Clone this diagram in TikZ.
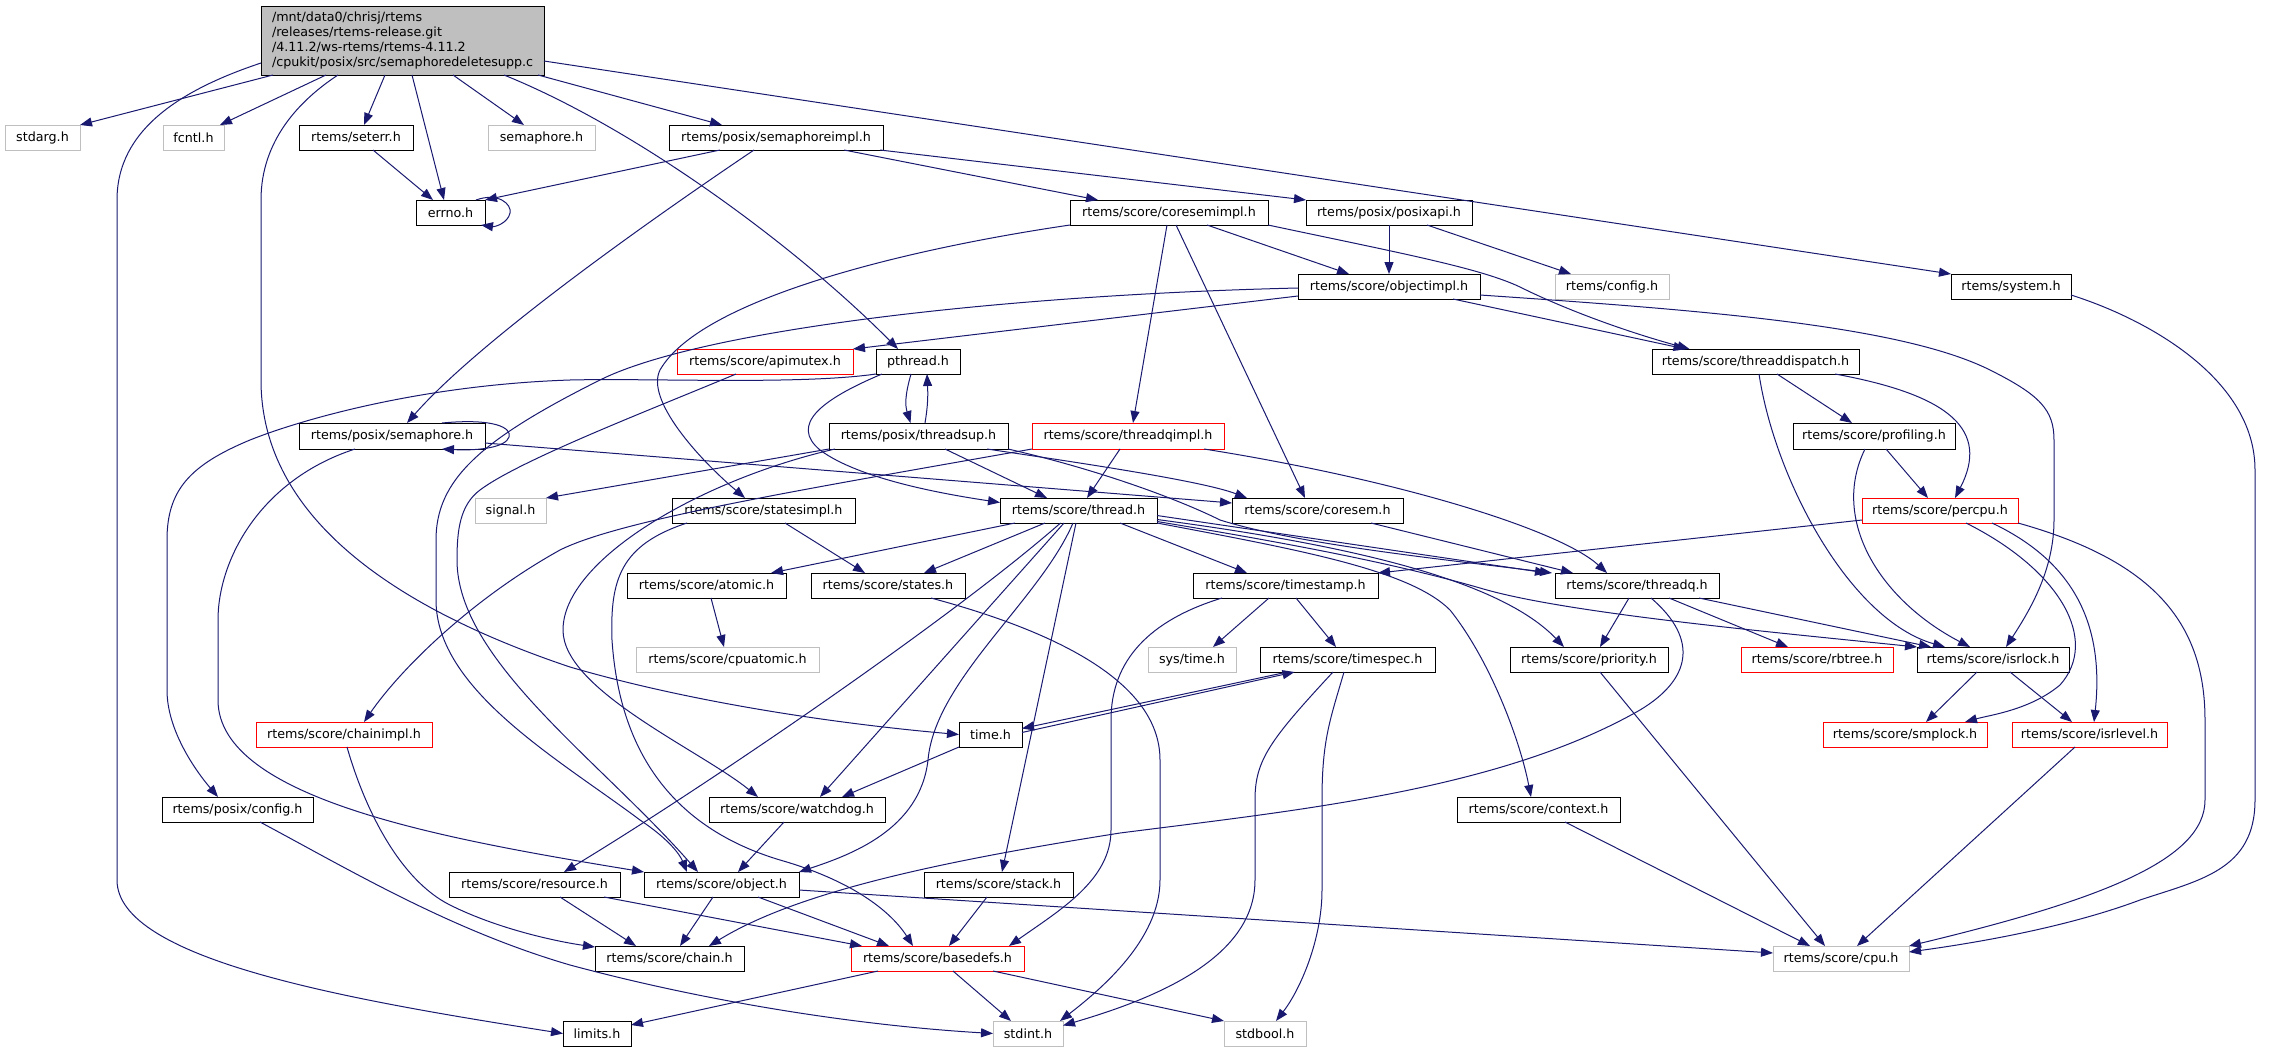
\documentclass[tikz,border=0pt]{standalone}
\usepackage{fontspec}
\setmainfont{DejaVu Sans}
\usetikzlibrary{arrows.meta}
\definecolor{edgecol}{HTML}{191970}
\definecolor{grayb}{HTML}{BFBFBF}
\definecolor{redb}{HTML}{FF0000}
\tikzset{
 box/.style={draw=black, line width=1pt, inner sep=0pt, outer sep=0pt, font=\fontsize{12.7}{14.7}\selectfont, fill=white},
 graybox/.style={box, draw=grayb},
 redbox/.style={box, draw=redb},
 rootbox/.style={box, fill=grayb, align=left},
 edge/.style={draw=edgecol, line width=1pt, -{Triangle[length=12pt,width=9pt]}},
}
\newcommand{\nd}[7]{\node[#6, minimum width={(#4-#2)*1pt}, minimum height={(#5-#3)*1pt}] (#1) at ({(#2+#4)/2},{(#3+#5)/2}) {#7};}
\begin{document}
\begin{tikzpicture}[x=1pt,y=-1pt]
\useasboundingbox (0,0) rectangle (2271,1052);
\nd{root}{261}{6}{544}{75}{rootbox, text width=261pt}{/mnt/data0/chrisj/rtems\\/releases/rtems-release.git\\/4.11.2/ws-rtems/rtems-4.11.2\\/cpukit/posix/src/semaphoredeletesupp.c}
\nd{stdarg}{5}{125}{80}{150}{graybox}{stdarg.h}
\nd{fcntl}{163}{125}{224}{150}{graybox}{fcntl.h}
\nd{seterr}{299}{125}{413}{150}{box}{rtems/seterr.h}
\nd{semsys}{488}{125}{595}{150}{graybox}{semaphore.h}
\nd{semimpl}{669}{125}{883}{150}{box}{rtems/posix/semaphoreimpl.h}
\nd{errno}{416}{200}{485}{225}{box}{errno.h}
\nd{coresemimpl}{1070}{200}{1268}{225}{box}{rtems/score/coresemimpl.h}
\nd{posixapi}{1306}{200}{1472}{225}{box}{rtems/posix/posixapi.h}
\nd{objectimpl}{1298}{274}{1480}{299}{box}{rtems/score/objectimpl.h}
\nd{config}{1555}{274}{1669}{299}{graybox}{rtems/config.h}
\nd{system}{1951}{274}{2071}{299}{box}{rtems/system.h}
\nd{threaddispatch}{1652}{349}{1859}{374}{box}{rtems/score/threaddispatch.h}
\nd{apimutex}{677}{349}{853}{374}{redbox}{rtems/score/apimutex.h}
\nd{pthread}{876}{349}{960}{374}{box}{pthread.h}
\nd{posixsem}{299}{423}{485}{449}{box}{rtems/posix/semaphore.h}
\nd{threadsup}{829}{423}{1008}{449}{box}{rtems/posix/threadsup.h}
\nd{threadqimpl}{1032}{423}{1224}{449}{redbox}{rtems/score/threadqimpl.h}
\nd{profiling}{1793}{423}{1955}{449}{box}{rtems/score/profiling.h}
\nd{signal}{475}{498}{546}{523}{graybox}{signal.h}
\nd{statesimpl}{672}{498}{855}{523}{box}{rtems/score/statesimpl.h}
\nd{thread}{1000}{498}{1157}{523}{box}{rtems/score/thread.h}
\nd{coresem}{1232}{498}{1403}{523}{box}{rtems/score/coresem.h}
\nd{percpu}{1862}{498}{2018}{523}{redbox}{rtems/score/percpu.h}
\nd{atomic}{627}{573}{786}{598}{box}{rtems/score/atomic.h}
\nd{states}{811}{573}{965}{598}{box}{rtems/score/states.h}
\nd{timestamp}{1193}{573}{1378}{598}{box}{rtems/score/timestamp.h}
\nd{threadq}{1555}{573}{1719}{598}{box}{rtems/score/threadq.h}
\nd{cpuatomic}{636}{647}{819}{672}{graybox}{rtems/score/cpuatomic.h}
\nd{systime}{1148}{647}{1236}{672}{graybox}{sys/time.h}
\nd{timespec}{1260}{647}{1435}{672}{box}{rtems/score/timespec.h}
\nd{priority}{1510}{647}{1668}{672}{box}{rtems/score/priority.h}
\nd{rbtree}{1741}{647}{1893}{672}{redbox}{rtems/score/rbtree.h}
\nd{isrlock}{1917}{647}{2069}{672}{box}{rtems/score/isrlock.h}
\nd{chainimpl}{256}{722}{432}{747}{redbox}{rtems/score/chainimpl.h}
\nd{time}{959}{722}{1022}{747}{box}{time.h}
\nd{smplock}{1823}{722}{1987}{747}{redbox}{rtems/score/smplock.h}
\nd{isrlevel}{2012}{722}{2167}{747}{redbox}{rtems/score/isrlevel.h}
\nd{posixconfig}{162}{797}{313}{822}{box}{rtems/posix/config.h}
\nd{watchdog}{709}{797}{885}{822}{box}{rtems/score/watchdog.h}
\nd{context}{1457}{797}{1620}{822}{box}{rtems/score/context.h}
\nd{resource}{449}{872}{620}{897}{box}{rtems/score/resource.h}
\nd{object}{644}{872}{799}{897}{box}{rtems/score/object.h}
\nd{stack}{924}{872}{1073}{897}{box}{rtems/score/stack.h}
\nd{cpu}{1773}{946}{1909}{971}{graybox}{rtems/score/cpu.h}
\nd{chain}{595}{946}{744}{971}{box}{rtems/score/chain.h}
\nd{basedefs}{851}{946}{1024}{971}{redbox}{rtems/score/basedefs.h}
\nd{limits}{563}{1021}{631}{1046}{box}{limits.h}
\nd{stdint}{993}{1021}{1063}{1046}{graybox}{stdint.h}
\nd{stdbool}{1224}{1021}{1306}{1046}{graybox}{stdbool.h}
% root edges
\draw[edge] ([xshift=-129.5pt]root.south) -- (stdarg.north east);
\draw[edge] ([xshift=-76.5pt]root.south) -- ([xshift=26.5pt]fcntl.north);
\draw[edge] ([xshift=-64.5pt]root.south) .. controls (300,100) and (261,140) .. (261,200) -- (261,380) .. controls (261,520) and (400,610) .. (570,667) .. controls (700,705) and (850,725) .. (time.west);
\draw[edge] ([xshift=-17.5pt]root.south) -- ([xshift=8pt]seterr.north);
\draw[edge] ([xshift=9.5pt]root.south) -- ([xshift=-6.5pt]errno.north);
\draw[edge] ([xshift=50.5pt]root.south) -- ([xshift=-17.5pt]semsys.north);
\draw[edge] ([xshift=101.5pt]root.south) .. controls (640,130) and (800,250) .. ([xshift=-20pt]pthread.north);
\draw[edge] ([xshift=135.5pt]root.south) -- ([xshift=-54pt]semimpl.north);
\draw[edge] ([yshift=-20.5pt]root.east) -- (system.north west);
\draw[edge] ([yshift=-22.5pt]root.west) .. controls (180,90) and (117,130) .. (117,200) -- (117,880) .. controls (117,960) and (350,1000) .. (limits.west);
% seterr, errno
\draw[edge] ([xshift=17pt]seterr.south) -- ([xshift=-17.5pt]errno.north);
\draw[edge] ([xshift=-9pt]errno.north east) .. controls (498,192) and (512,204) .. (510,213) .. controls (508,223) and (495,227) .. ([xshift=-4pt]errno.south east);
% semaphoreimpl
\draw[edge] ([xshift=-56pt]semimpl.south) -- (errno.north east);
\draw[edge] ([xshift=-22pt]semimpl.south) .. controls (650,220) and (480,340) .. ([xshift=15pt]posixsem.north);
\draw[edge] ([xshift=68pt]semimpl.south) -- ([xshift=-71pt]coresemimpl.north);
\draw[edge] ([xshift=104pt]semimpl.south) -- (posixapi.north west);
% coresemimpl
\draw[edge] ([xshift=38pt]coresemimpl.south) -- ([xshift=-40pt]objectimpl.north);
\draw[edge] (coresemimpl.south east) .. controls (1400,253) and (1480,268) .. (1520,287) .. controls (1560,307) and (1620,330) .. ([xshift=-66pt]threaddispatch.north);
\draw[edge] ([xshift=-2pt]coresemimpl.south) -- ([xshift=5pt]threadqimpl.north);
\draw[edge] ([xshift=7pt]coresemimpl.south) -- ([xshift=-12.5pt]coresem.north);
\draw[edge] (coresemimpl.south west) .. controls (900,250) and (700,300) .. (660,370) .. controls (645,400) and (700,460) .. ([xshift=-18.5pt]statesimpl.north);
% posixapi
\draw[edge] (posixapi.south) -- (objectimpl.north);
\draw[edge] ([xshift=38pt]posixapi.south) -- ([xshift=-41pt]config.north);
% objectimpl
\draw[edge] ([yshift=-9.5pt]objectimpl.west) -- (apimutex.north east);
\draw[edge] ([yshift=-1.5pt]objectimpl.west) .. controls (1000,295) and (700,330) .. (600,380) .. controls (480,440) and (436,480) .. (436,540) -- (436,600) .. controls (436,690) and (560,760) .. (640,820) .. controls (670,840) and (680,855) .. ([xshift=-34.5pt]object.north);
\draw[edge] ([xshift=64pt]objectimpl.south) -- ([xshift=-70pt]threaddispatch.north);
\draw[edge] ([yshift=-8.5pt]objectimpl.east) .. controls (1700,310) and (1900,325) .. (1990,370) .. controls (2040,395) and (2054,410) .. (2054,440) -- (2054,520) .. controls (2054,570) and (2030,610) .. ([xshift=13pt]isrlock.north);
% system
\draw[edge] ([yshift=-8.5pt]system.east) .. controls (2150,320) and (2255,380) .. (2255,470) -- (2255,800) .. controls (2255,870) and (2200,880) .. (2140,900) .. controls (2060,930) and (1960,945) .. ([yshift=6.5pt]cpu.east);
% apimutex
\draw[edge] ([xshift=-29pt]apimutex.south) .. controls (650,410) and (520,460) .. (480,490) .. controls (460,505) and (457,530) .. (457,560) .. controls (457,660) and (600,760) .. ([xshift=-23.5pt]object.north);
% pthread
\draw[edge] ([xshift=-7pt]pthread.south) .. controls (905,395) and (905,405) .. ([xshift=-8pt]threadsup.north);
\draw[edge] ([xshift=6.5pt]threadsup.north) .. controls (928,405) and (928,395) .. ([xshift=9pt]pthread.south);
\draw[edge] (pthread.south west) .. controls (800,385) and (650,378) .. (570,380) .. controls (420,385) and (300,420) .. (250,440) .. controls (190,465) and (167,490) .. (167,540) -- (167,690) .. controls (167,730) and (195,770) .. ([xshift=-19.5pt]posixconfig.north);
\draw[edge] ([xshift=-36pt]pthread.south) .. controls (820,400) and (790,425) .. (820,450) .. controls (860,480) and (950,495) .. ([yshift=8pt]thread.west);
% threadsup
\draw[edge] (threadsup.south west) -- (signal.north east);
\draw[edge] ([xshift=26.5pt]threadsup.south) -- ([xshift=-31.5pt]thread.north);
\draw[edge] ([xshift=68.5pt]threadsup.south) .. controls (1060,460) and (1200,480) .. ([xshift=-70.5pt]coresem.north);
\draw[edge] (threadsup.south east) .. controls (1100,470) and (1180,500) .. (1220,520) .. controls (1300,545) and (1450,560) .. ([xshift=-85pt]threadq.north);
\draw[edge] ([xshift=-83.5pt]threadsup.south) .. controls (700,480) and (563,560) .. (563,630) .. controls (563,690) and (700,750) .. ([xshift=-39pt]watchdog.north);
% posix semaphore
\draw[edge] ([xshift=-43pt]posixsem.north east) .. controls (495,418) and (512,428) .. (509,437) .. controls (506,447) and (480,451) .. ([xshift=-43pt]posixsem.south east);
\draw[edge] ([yshift=-7pt]posixsem.east) -- ([yshift=7.5pt]coresem.west);
\draw[edge] ([xshift=-37pt]posixsem.south) .. controls (260,480) and (218,560) .. (218,620) -- (218,700) .. controls (218,800) and (450,840) .. (object.north west);
% threadqimpl
\draw[edge] (threadqimpl.south west) .. controls (800,490) and (620,520) .. (560,550) .. controls (470,600) and (400,670) .. ([xshift=20pt]chainimpl.north);
\draw[edge] ([xshift=-8pt]threadqimpl.south) -- ([xshift=8.5pt]thread.north);
\draw[edge] ([xshift=76pt]threadqimpl.south) .. controls (1400,480) and (1560,530) .. ([xshift=-30pt]threadq.north);
% threaddispatch
\draw[edge] ([xshift=21.5pt]threaddispatch.south) -- ([xshift=-22pt]profiling.north);
\draw[edge] ([xshift=79.5pt]threaddispatch.south) .. controls (1950,395) and (1990,430) .. ([xshift=15pt]percpu.north);
\draw[edge] ([xshift=3.5pt]threaddispatch.south) .. controls (1775,480) and (1850,620) .. ([xshift=-48pt]isrlock.north);
% profiling
\draw[edge] ([xshift=12pt]profiling.south) -- ([xshift=-12pt]percpu.north);
\draw[edge] ([xshift=-9pt]profiling.south) .. controls (1830,520) and (1880,600) .. ([xshift=-23pt]isrlock.north);
% statesimpl
\draw[edge] ([xshift=21.5pt]statesimpl.south) -- ([xshift=-23pt]states.north);
\draw[edge] ([xshift=-76.5pt]statesimpl.south) .. controls (620,545) and (610,580) .. (612,640) .. controls (620,760) and (680,830) .. (780,860) .. controls (850,880) and (890,910) .. ([xshift=-24.5pt]basedefs.north);
% thread
\draw[edge] ([xshift=-63.5pt]thread.south) -- ([xshift=64.5pt]atomic.north);
\draw[edge] ([xshift=-33.5pt]thread.south) -- ([xshift=36pt]states.north);
\draw[edge] ([xshift=41.5pt]thread.south) -- ([xshift=-38.5pt]timestamp.north);
\draw[edge] ([yshift=-5pt]thread.east) -- ([xshift=-90pt]threadq.north);
\draw[edge] ([yshift=-9pt]thread.east) .. controls (1350,545) and (1500,580) .. ([xshift=-25pt]priority.north);
\draw[edge] ([yshift=-11pt]thread.east) .. controls (1300,545) and (1400,565) .. (1480,588) .. controls (1560,612) and (1750,630) .. (isrlock.north west);
\draw[edge] (thread.south east) .. controls (1300,550) and (1410,570) .. (1450,610) .. controls (1490,660) and (1520,740) .. ([xshift=-7.5pt]context.north);
\draw[edge] ([xshift=-2.5pt]thread.south) -- ([xshift=3.5pt]stack.north);
\draw[edge] ([xshift=-14.5pt]thread.south) -- ([xshift=23pt]watchdog.north);
\draw[edge] ([xshift=-5.5pt]thread.south) .. controls (1040,600) and (935,680) .. (928,760) .. controls (920,830) and (850,855) .. (object.north east);
\draw[edge] ([xshift=-18pt]thread.south) .. controls (950,620) and (700,790) .. ([xshift=29.5pt]resource.north);
% coresem
\draw[edge] ([xshift=53.5pt]coresem.south) -- ([xshift=-64pt]threadq.north);
% percpu
\draw[edge] ([yshift=-9.5pt]percpu.west) -- (timestamp.north east);
\draw[edge] ([xshift=26pt]percpu.south) .. controls (2060,570) and (2100,640) .. (2060,685) .. controls (2030,710) and (1990,715) .. ([xshift=60pt]smplock.north);
\draw[edge] ([xshift=52pt]percpu.south) .. controls (2070,560) and (2105,620) .. ([xshift=4.5pt]isrlevel.north);
\draw[edge] (percpu.south east) .. controls (2150,560) and (2205,620) .. (2205,720) -- (2205,800) .. controls (2205,860) and (2100,900) .. (cpu.north east);
% atomic, states, timestamp
\draw[edge] ([xshift=4.5pt]atomic.south) -- ([xshift=-3.5pt]cpuatomic.north);
\draw[edge] ([xshift=43pt]states.south) .. controls (1050,630) and (1160,680) .. (1160,760) -- (1160,880) .. controls (1160,940) and (1100,990) .. ([xshift=32pt]stdint.north);
\draw[edge] ([xshift=-16.5pt]timestamp.south) -- ([xshift=21pt]systime.north);
\draw[edge] ([xshift=10.5pt]timestamp.south) -- ([xshift=-11.5pt]timespec.north);
\draw[edge] ([xshift=-63.5pt]timestamp.south) .. controls (1150,620) and (1111,660) .. (1111,720) -- (1111,830) .. controls (1111,880) and (1060,910) .. ([xshift=71.5pt]basedefs.north);
% threadq
\draw[edge] ([xshift=-8pt]threadq.south) -- ([xshift=11pt]priority.north);
\draw[edge] ([xshift=32pt]threadq.south) -- ([xshift=-29pt]rbtree.north);
\draw[edge] ([xshift=62pt]threadq.south) -- ([xshift=-62pt]isrlock.north);
\draw[edge] ([xshift=14pt]threadq.south) .. controls (1700,640) and (1690,680) .. (1640,710) .. controls (1500,790) and (1300,810) .. (1120,833) .. controls (950,860) and (800,890) .. ([xshift=39.5pt]chain.north);
% timespec, time
\draw[edge] ([xshift=-60pt]timespec.south) -- ([yshift=6pt]time.east);
\draw[edge] ([yshift=2pt]time.east) -- ([xshift=-53pt]timespec.south);
\draw[edge] ([xshift=-14.5pt]timespec.south) .. controls (1270,740) and (1255,760) .. (1255,800) -- (1255,880) .. controls (1255,960) and (1150,1000) .. ([yshift=8pt]stdint.east);
\draw[edge] ([xshift=-3.5pt]timespec.south) .. controls (1330,720) and (1322,740) .. (1322,800) -- (1322,890) .. controls (1322,940) and (1300,990) .. ([xshift=11pt]stdbool.north);
\draw[edge] (time.south west) -- ([xshift=45pt]watchdog.north);
% lower
\draw[edge] ([xshift=11pt]priority.south) -- ([xshift=-16pt]cpu.north);
\draw[edge] ([xshift=-16pt]isrlock.south) -- ([xshift=21pt]smplock.north);
\draw[edge] ([xshift=17pt]isrlock.south) -- ([xshift=-17.5pt]isrlevel.north);
\draw[edge] ([xshift=-14.5pt]isrlevel.south) -- ([xshift=16pt]cpu.north);
\draw[edge] ([xshift=3pt]chainimpl.south) .. controls (365,810) and (400,880) .. (450,905) .. controls (500,930) and (560,942) .. ([yshift=-1pt]chain.north west);
\draw[edge] ([xshift=22.5pt]posixconfig.south) .. controls (350,870) and (450,930) .. (570,965) .. controls (700,1000) and (850,1025) .. (stdint.west);
\draw[edge] ([xshift=-13pt]watchdog.south) -- ([xshift=16.5pt]object.north);
\draw[edge] ([xshift=26.5pt]context.south) -- ([xshift=-31pt]cpu.north);
\draw[edge] ([xshift=25.5pt]resource.south) -- ([xshift=-33.5pt]chain.north);
\draw[edge] ([xshift=69.5pt]resource.south) -- ([xshift=-75.5pt]basedefs.north);
\draw[edge] ([xshift=-8.5pt]object.south) -- ([xshift=10.5pt]chain.north);
\draw[edge] ([xshift=36.5pt]object.south) -- ([xshift=-48.5pt]basedefs.north);
\draw[edge] ([yshift=-5.5pt]object.east) -- ([yshift=5.5pt]cpu.west);
\draw[edge] ([xshift=-11.5pt]stack.south) -- ([xshift=11.5pt]basedefs.north);
\draw[edge] ([xshift=-59.5pt]basedefs.south) -- ([yshift=8.5pt]limits.east);
\draw[edge] ([xshift=15.5pt]basedefs.south) -- ([xshift=-17pt]stdint.north);
\draw[edge] ([xshift=55.5pt]basedefs.south) -- (stdbool.north west);
\end{tikzpicture}
\end{document}
